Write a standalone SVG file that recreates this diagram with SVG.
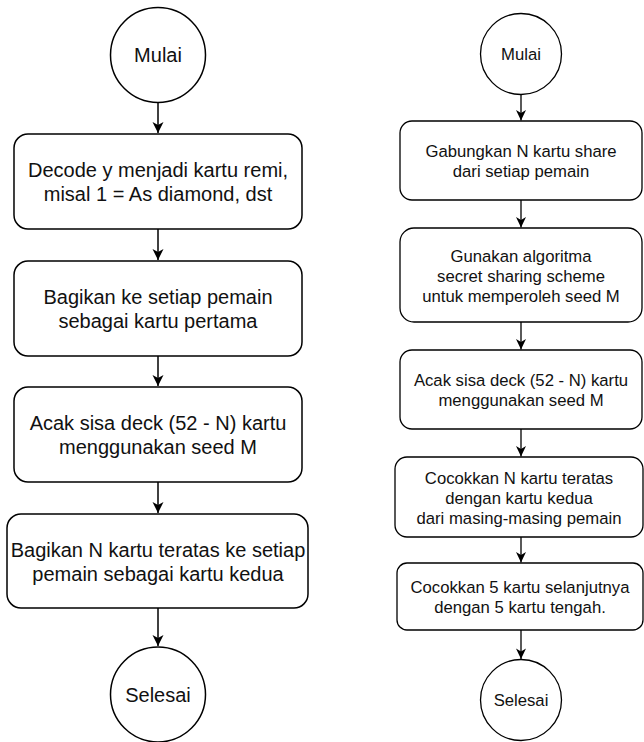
<svg xmlns="http://www.w3.org/2000/svg" width="644" height="742" viewBox="0 0 644 742">
<style>
.s{fill:#fff;stroke:#000;stroke-width:1.5}
.r{fill:#fff;stroke:#000;stroke-width:1.3}
.t{font-family:"Liberation Sans",Arial,sans-serif;fill:#111;text-anchor:middle}
.L{font-size:20px}
.R{font-size:16.7px}
.c{fill:none;stroke:#000}
</style>
<defs>
<marker id="a1" markerUnits="userSpaceOnUse" markerWidth="14" markerHeight="14" viewBox="-7 -12 14 14" refX="0" refY="0" orient="auto-start-reverse" overflow="visible">
<path d="M0,0 L-5.5,-11 L0,-8 L5.5,-11 Z" transform="rotate(-90)" fill="#000"/>
</marker>
<marker id="a2" markerUnits="userSpaceOnUse" markerWidth="14" markerHeight="14" viewBox="-7 -12 14 14" refX="0" refY="0" orient="auto" overflow="visible">
<path d="M0,0 L-5,-10.5 L0,-7.5 L5,-10.5 Z" transform="rotate(-90)" fill="#000"/>
</marker>
</defs>
<g id="connectors">
<path class="c" stroke-width="1.5" d="M158,102 V133" marker-end="url(#a1)"/>
<path class="c" stroke-width="1.5" d="M158,229 V260" marker-end="url(#a1)"/>
<path class="c" stroke-width="1.5" d="M158,356 V386" marker-end="url(#a1)"/>
<path class="c" stroke-width="1.5" d="M158,482 V513" marker-end="url(#a1)"/>
<path class="c" stroke-width="1.5" d="M158,608 V646" marker-end="url(#a1)"/>
<path class="c" stroke-width="1.3" d="M521,94.5 V120.5" marker-end="url(#a2)"/>
<path class="c" stroke-width="1.3" d="M521,200 V227.5" marker-end="url(#a2)"/>
<path class="c" stroke-width="1.3" d="M521,322 V349.5" marker-end="url(#a2)"/>
<path class="c" stroke-width="1.3" d="M521,429 V456.5" marker-end="url(#a2)"/>
<path class="c" stroke-width="1.3" d="M521,537 V562.5" marker-end="url(#a2)"/>
<path class="c" stroke-width="1.3" d="M521,630 V659" marker-end="url(#a2)"/>
</g>
<g id="l-start"><circle class="s" cx="158" cy="55" r="47.5"/><text class="t L" x="158" y="62">Mulai</text></g>
<g id="l-decode"><rect class="s" x="14" y="134" width="288" height="95" rx="14"/><text class="t L" x="158" y="177">Decode y menjadi kartu remi,</text><text class="t L" x="158" y="201">misal 1 = As diamond, dst</text></g>
<g id="l-bagikan1"><rect class="s" x="14" y="261" width="288" height="95" rx="14"/><text class="t L" x="158" y="304">Bagikan ke setiap pemain</text><text class="t L" x="158" y="328">sebagai kartu pertama</text></g>
<g id="l-acak"><rect class="s" x="14" y="387" width="288" height="95" rx="14"/><text class="t L" x="158" y="430">Acak sisa deck (52 - N) kartu</text><text class="t L" x="158" y="454">menggunakan seed M</text></g>
<g id="l-bagikan2"><rect class="s" x="7" y="514" width="301" height="94" rx="14"/><text class="t L" x="158" y="557">Bagikan N kartu teratas ke setiap</text><text class="t L" x="158" y="581">pemain sebagai kartu kedua</text></g>
<g id="l-end"><circle class="s" cx="158" cy="694.5" r="47.5"/><text class="t L" x="158" y="701.5">Selesai</text></g>
<g id="r-start"><circle class="r" cx="521" cy="54" r="40.5"/><text class="t R" x="521" y="60">Mulai</text></g>
<g id="r-gabung"><rect class="r" x="400" y="121" width="242" height="79" rx="12"/><text class="t R" x="521" y="157">Gabungkan N kartu share</text><text class="t R" x="521" y="177">dari setiap pemain</text></g>
<g id="r-gunakan"><rect class="r" x="400" y="228" width="242" height="94" rx="14"/><text class="t R" x="521" y="262">Gunakan algoritma</text><text class="t R" x="521" y="282">secret sharing scheme</text><text class="t R" x="521" y="302">untuk memperoleh seed M</text></g>
<g id="r-acak"><rect class="r" x="400" y="350" width="242" height="79" rx="12"/><text class="t R" x="521" y="386">Acak sisa deck (52 - N) kartu</text><text class="t R" x="521" y="406">menggunakan seed M</text></g>
<g id="r-cocok1"><rect class="r" x="395" y="457" width="248" height="80" rx="12"/><text class="t R" x="519" y="484">Cocokkan N kartu teratas</text><text class="t R" x="519" y="504">dengan kartu kedua</text><text class="t R" x="519" y="524">dari masing-masing pemain</text></g>
<g id="r-cocok2"><rect class="r" x="397" y="563" width="246" height="67" rx="10"/><text class="t R" x="520" y="593">Cocokkan 5 kartu selanjutnya</text><text class="t R" x="520" y="613">dengan 5 kartu tengah.</text></g>
<g id="r-end"><circle class="r" cx="521" cy="700" r="40.5"/><text class="t R" x="521" y="706">Selesai</text></g>
</svg>
